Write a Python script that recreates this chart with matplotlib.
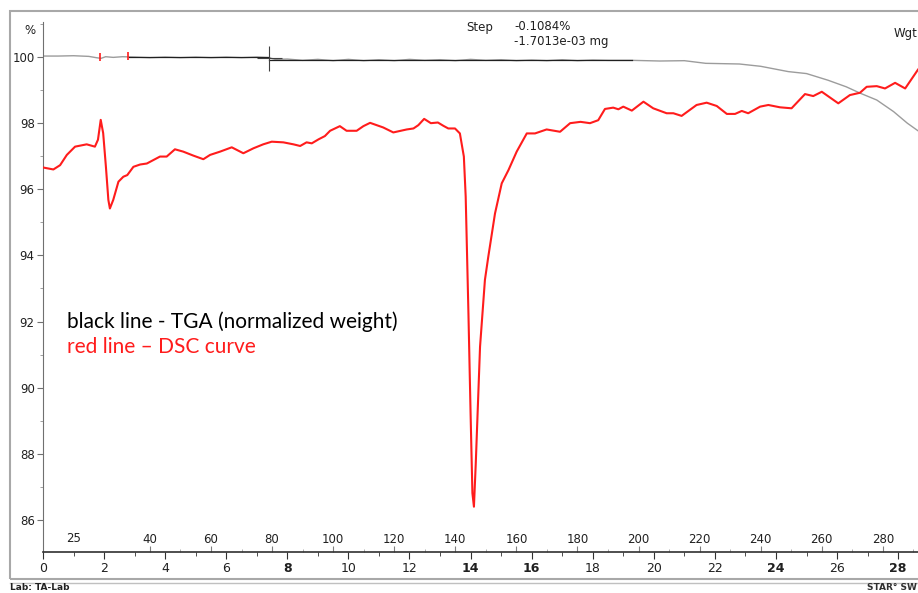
import matplotlib
matplotlib.use("Agg")
import matplotlib.pyplot as plt
from matplotlib.patches import Rectangle
from matplotlib.lines import Line2D

# DSC curve (red), time in min vs. value
dsc_t = [0.0, 0.34, 0.56, 0.78, 1.05, 1.43, 1.70, 1.80, 1.89, 1.97, 2.06, 2.14, 2.19, 2.30,
         2.47, 2.63, 2.76, 2.96, 3.18, 3.40, 3.83, 4.05, 4.32, 4.59, 4.92, 5.25, 5.47, 5.80,
         6.18, 6.56, 6.89, 7.21, 7.49, 7.87, 8.20, 8.42, 8.63, 8.80, 9.02, 9.23, 9.40, 9.72,
         9.94, 10.27, 10.49, 10.71, 11.14, 11.47, 11.91, 12.13, 12.29, 12.48, 12.70, 12.93,
         13.11, 13.27, 13.49, 13.65, 13.78, 13.84, 13.93, 14.00, 14.06, 14.11, 14.17, 14.31,
         14.47, 14.58, 14.80, 15.02, 15.24, 15.51, 15.84, 16.11, 16.49, 16.93, 17.26, 17.60,
         17.91, 18.18, 18.40, 18.67, 18.84, 19.00, 19.28, 19.66, 19.98, 20.42, 20.64, 20.91,
         21.40, 21.73, 22.06, 22.39, 22.66, 22.88, 23.09, 23.48, 23.75, 24.13, 24.51, 24.95,
         25.22, 25.50, 26.04, 26.42, 26.75, 26.97, 27.30, 27.57, 27.90, 28.23, 28.65]
dsc_v = [96.66, 96.60, 96.73, 97.04, 97.29, 97.36, 97.29, 97.50, 98.10, 97.70, 96.68, 95.68, 95.42, 95.68,
         96.23, 96.38, 96.43, 96.68, 96.75, 96.78, 96.99, 96.99, 97.21, 97.14, 97.02, 96.91, 97.04, 97.14,
         97.27, 97.09, 97.24, 97.36, 97.44, 97.42, 97.36, 97.31, 97.42, 97.39, 97.51, 97.61, 97.77, 97.91,
         97.77, 97.77, 97.91, 98.01, 97.87, 97.72, 97.81, 97.84, 97.94, 98.13, 98.00, 98.02,
         97.92, 97.84, 97.84, 97.69, 96.99, 95.78, 92.25, 89.23, 86.81, 86.40, 87.71, 91.24,
         93.26, 93.96, 95.27, 96.18, 96.58, 97.14, 97.69, 97.69, 97.81, 97.74, 98.00, 98.04,
         98.00, 98.09, 98.43, 98.47, 98.42, 98.50, 98.38, 98.65, 98.45, 98.30, 98.30, 98.22,
         98.55, 98.62, 98.52, 98.28, 98.28, 98.37, 98.30, 98.50, 98.55, 98.48, 98.45, 98.88,
         98.82, 98.95, 98.60, 98.85, 98.92, 99.10, 99.12, 99.05, 99.22, 99.05, 99.62]

# TGA curve (grey), normalized weight %
tga_t = [0.0, 0.5, 1.0, 1.5, 1.75, 1.9, 2.05, 2.3, 2.6, 3.0, 3.5, 4.0, 4.5, 5.0, 5.5, 6.0, 6.5,
         7.0, 7.4, 7.6, 8.0, 8.5, 9.0, 9.5, 10.0, 10.5, 11.0, 11.5, 12.0, 12.5, 13.0, 13.5,
         14.0, 14.5, 15.0, 15.5, 16.0, 16.5, 17.0, 17.5, 18.0, 18.5, 19.3, 20.2, 21.0, 21.7,
         22.8, 23.5, 24.4, 25.0, 25.7, 26.3, 26.75, 27.3, 27.85, 28.3, 28.65]
tga_v = [100.03, 100.03, 100.04, 100.02, 99.98, 99.96, 100.01, 99.99, 100.01, 100.0, 99.98, 100.0,
         99.98, 100.0, 99.98, 100.0, 99.98, 100.0, 99.98, 99.93, 99.94, 99.90, 99.93, 99.89, 99.93,
         99.89, 99.92, 99.89, 99.93, 99.90, 99.92, 99.89, 99.93, 99.90, 99.92, 99.89, 99.91, 99.89,
         99.92, 99.89, 99.91, 99.90, 99.90, 99.88, 99.89, 99.81, 99.79, 99.72, 99.56, 99.50, 99.30,
         99.10, 98.91, 98.70, 98.35, 98.00, 97.77]

# step evaluation baselines
step_left_t = [2.8, 7.4]
step_left_v = [100.0, 100.0]
step_right_t = [7.4, 19.3]
step_right_v = [99.90, 99.90]
cross_t, cross_v = 7.4, 99.96
event_t = [1.88, 2.78]
event_v = [99.99, 100.02]

time_ticks = list(range(0, 29, 2))
bold_time = [8, 14, 16, 24, 28]
temp_ticks = list(range(40, 281, 20))
y_ticks = list(range(86, 101, 2))

red = "#ff1c1c"

fig = plt.figure(figsize=(9.18, 5.93), dpi=100)
ax = fig.add_axes([43 / 918, 1 - 552 / 593, 1 - 43 / 918, (552 - 22) / 593])

ax.plot(tga_t, tga_v, color="#9c9c9c", lw=1.0, zorder=2)
ax.plot(step_left_t, step_left_v, color="#202020", lw=0.9, zorder=3)
ax.plot(step_right_t, step_right_v, color="#202020", lw=0.9, zorder=3)
ax.plot([cross_t], [cross_v], marker="+", ms=18, mew=0.8, color="#404040", zorder=4)
ax.plot(event_t, event_v, ls="none", marker="|", ms=6, mew=1.2, color=red, zorder=4)
ax.plot(dsc_t, dsc_v, color=red, lw=1.5, zorder=5)

ax.set_xlim(0, 28.65)
ax.set_ylim(85.03, 101.06)

for s in ["top", "right"]:
    ax.spines[s].set_visible(False)
ax.spines["left"].set_color("#707070")
ax.spines["bottom"].set_color("#303030")
ax.spines["bottom"].set_linewidth(1.2)

ax.set_yticks(y_ticks)
ax.set_yticks(range(87, 102, 2), minor=True)
ax.tick_params(axis="y", which="major", length=4, color="#707070", labelsize=8.5,
               labelcolor="#202020", pad=2)
ax.tick_params(axis="y", which="minor", length=2, color="#909090")

ax.set_xticks(time_ticks)
ax.set_xticks(range(1, 29, 2), minor=True)
ax.tick_params(axis="x", which="major", length=5, color="#303030", labelsize=9,
               labelcolor="#202020", pad=2)
ax.tick_params(axis="x", which="minor", length=3, color="#303030")
for lab in ax.get_xticklabels():
    if int(lab.get_text()) in bold_time:
        lab.set_fontweight("bold")

# temperature scale inside the plot
sec = ax.secondary_xaxis("bottom", functions=(lambda t: 5 + 10 * t, lambda T: (T - 5) / 10))
sec.set_xticks(temp_ticks)
sec.set_xticks(range(50, 291, 20), minor=True)
sec.tick_params(axis="x", which="major", direction="in", length=4, color="#808080",
                labelsize=8.5, labelcolor="#202020", pad=-14)
sec.tick_params(axis="x", which="minor", direction="in", length=2, color="#a0a0a0")
sec.spines["bottom"].set_visible(False)
ax.annotate("25", xy=(1.0, 0), xycoords=ax.get_xaxis_transform(), xytext=(0, 14),
            textcoords="offset pixels", ha="center", va="center", fontsize=8.5, color="#202020")

# annotations
fig.text(30 / 918, 1 - 31 / 593, "%", ha="center", va="center", fontsize=8.5, color="#202020")
fig.text(917 / 918, 1 - 33 / 593, "Wgt", ha="right", va="center", fontsize=8.5, color="#202020")
fig.text(466 / 918, 1 - 27 / 593, "Step", ha="left", va="center", fontsize=8.5, color="#202020")
fig.text(514 / 918, 1 - 26 / 593, "-0.1084%", ha="left", va="center", fontsize=8.5, color="#202020")
fig.text(514 / 918, 1 - 42 / 593, "-1.7013e-03 mg", ha="left", va="center", fontsize=8.5,
         color="#202020")

fig.text(67 / 918, 1 - 322 / 593, "black line - TGA (normalized weight)", ha="left", va="center",
         fontsize=15, family="Lato", color="black")
fig.text(67 / 918, 1 - 347 / 593, "red line \u2013 DSC curve", ha="left", va="center",
         fontsize=15, family="Lato", color=red)

fig.text(10 / 918, 1 - 588 / 593, "Lab: TA-Lab", ha="left", va="center", fontsize=6.5,
         fontweight="bold", color="#202020")
fig.text(917 / 918, 1 - 588 / 593, "STAR\u00b0 SW", ha="right", va="center", fontsize=6.5,
         fontweight="bold", color="#303030")

# outer frame of the instrument printout
fig.add_artist(Rectangle((10 / 918, 1 - 579 / 593), 1.0, (579 - 11) / 593,
                         transform=fig.transFigure, fill=False, ec="#a8a8a8", lw=1.5))
fig.add_artist(Line2D([10 / 918, 1.0], [1 - 583 / 593, 1 - 583 / 593],
                      transform=fig.transFigure, color="#c0c0c0", lw=1.0))

fig.savefig("out.png", dpi=100)
